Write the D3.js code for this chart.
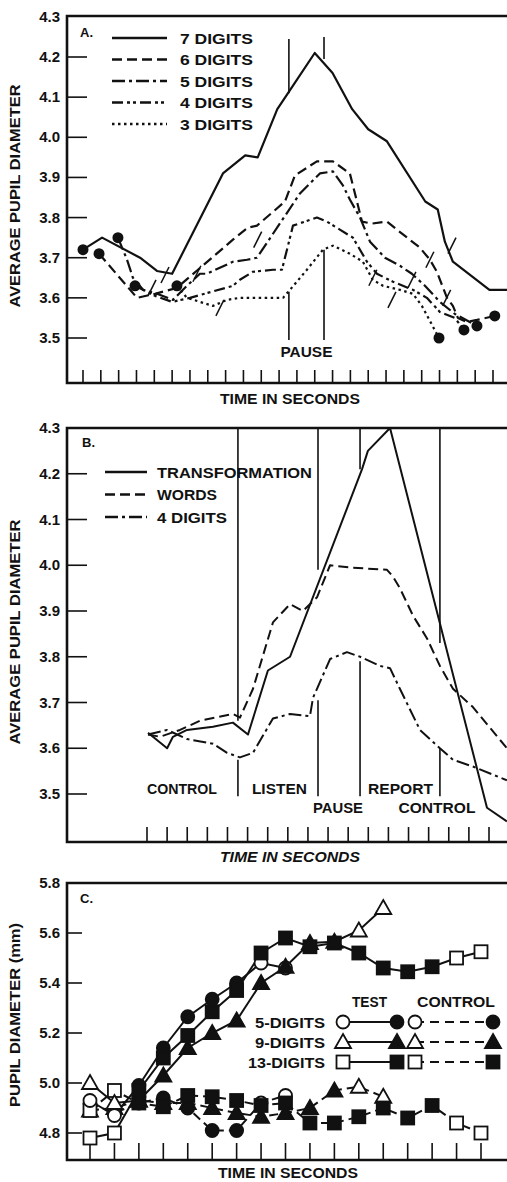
<!DOCTYPE html>
<html><head><meta charset="utf-8">
<script src="https://cdn.jsdelivr.net/npm/d3@7"></script>
<style>body{margin:0;background:#fff}svg{display:block}text{font-family:"Liberation Sans",Arial,sans-serif;fill:#111;font-weight:bold}</style>
</head><body><svg id="c" width="507" height="1182"></svg>
<script>
// ---------------- DATA ----------------
// Panel A : time in tick units, average pupil diameter
const A_TICKS = d3.range(0, 24);
const A_YTICKS = [3.5, 3.6, 3.7, 3.8, 3.9, 4.0, 4.1, 4.2, 4.3];
const A_NAMES = ["7 DIGITS", "6 DIGITS", "5 DIGITS", "4 DIGITS", "3 DIGITS"];
const A_SEVEN = [[0,3.72],[1.07,3.75],[3.2,3.70],[4.15,3.667],[5,3.66],[7.85,3.91],[9.1,3.955],[9.8,3.95],[10.9,4.07],[11.5,4.11],[13,4.21],[14,4.16],[15.1,4.07],[16,4.02],[17.05,3.99],[19.2,3.84],[19.9,3.82],[20.3,3.74],[20.75,3.69],[22.8,3.62],[23.8,3.62]];
const A_SIX = [[0.9,3.71],[3.03,3.60],[4.04,3.61],[5.27,3.625],[6.45,3.67],[8.41,3.745],[9.25,3.775],[9.76,3.78],[11.33,3.84],[11.89,3.905],[13.12,3.94],[14.02,3.94],[14.97,3.91],[15.37,3.84],[15.65,3.79],[16.21,3.785],[17.05,3.79],[17.61,3.77],[18.9,3.725],[19.46,3.695],[19.85,3.665],[20.42,3.60],[20.75,3.58],[21.03,3.55],[21.54,3.54],[22.1,3.545],[23.1,3.555]];
const A_FIVE = [[1.96,3.75],[2.47,3.695],[2.8,3.65],[3.37,3.62],[4.15,3.61],[5.05,3.595],[5.83,3.63],[6.56,3.66],[6.95,3.66],[8.41,3.69],[9.2,3.695],[9.76,3.70],[12.17,3.86],[13.29,3.91],[14.02,3.915],[14.58,3.88],[14.97,3.845],[15.54,3.80],[16.1,3.74],[16.94,3.70],[17.78,3.68],[18.45,3.66],[19.18,3.63],[20.02,3.59],[20.86,3.56],[22.1,3.53]];
const A_FOUR = [[2.92,3.63],[4.04,3.605],[5,3.59],[6,3.60],[8.41,3.63],[8.8,3.645],[9.53,3.665],[10.66,3.67],[11.16,3.67],[11.78,3.78],[13.12,3.80],[13.68,3.79],[14.41,3.77],[15.14,3.75],[15.93,3.69],[16.49,3.66],[17.39,3.64],[18.51,3.62],[19.29,3.60],[20.02,3.565],[20.86,3.55],[21.37,3.52]];
const A_THREE = [[5.27,3.63],[5.83,3.60],[6.56,3.59],[7.29,3.58],[8.08,3.595],[8.8,3.60],[11.22,3.60],[11.61,3.62],[12.56,3.67],[13.46,3.72],[14.02,3.73],[14.97,3.71],[15.7,3.69],[16.26,3.645],[16.83,3.63],[17.78,3.62],[18.51,3.61],[19.01,3.58],[19.97,3.50]];
const A_ENDDOT = [false, true, true, true, true];
// pause markers: time, upper segment [top,bottom], lower segment [top,bottom]
const A_PAUSE = [[11.55, 4.245, 4.11, 3.615, 3.495],[13.52, 4.25, 4.195, 3.72, 3.495]];
// short slash marks drawn across the curves (time, value)
const A_SLASH = [[3.87,3.625],[4.6,3.657],[6.39,3.66],[7.68,3.575],[9.8,3.745],[16.26,3.65],[17.33,3.595],[18.45,3.645],[19.46,3.695],[20.4,3.60],[20.7,3.73]];

// Panel B
const B_TICKS = d3.range(0, 18);
const B_YTICKS = [3.5, 3.6, 3.7, 3.8, 3.9, 4.0, 4.1, 4.2, 4.3];
const B_NAMES = ["TRANSFORMATION", "WORDS", "4 DIGITS"];
const B_TRANS = [[0.05,3.634],[1,3.60],[1.29,3.625],[1.99,3.64],[3.28,3.647],[4.27,3.656],[5.02,3.63],[6.01,3.77],[7.11,3.80],[10.69,4.21],[10.98,4.25],[12.08,4.30],[16.9,3.47],[17.89,3.44]];
const B_WORDS = [[0.05,3.63],[0.65,3.625],[1.64,3.64],[2.63,3.66],[4.27,3.675],[4.62,3.667],[5.27,3.73],[6.26,3.875],[7.11,3.915],[7.75,3.90],[8.45,3.93],[9.1,4.0],[10.09,3.995],[11.93,3.99],[12.23,3.975],[12.57,3.95],[13.22,3.89],[13.92,3.84],[14.56,3.78],[15.21,3.73],[16.2,3.69],[17.89,3.60]];
const B_FOUR = [[0.05,3.63],[1,3.64],[1.99,3.62],[3.28,3.61],[3.98,3.59],[4.62,3.58],[5.27,3.59],[6.26,3.665],[7.11,3.675],[8.1,3.67],[8.25,3.71],[9.1,3.795],[9.94,3.81],[10.59,3.80],[11.58,3.78],[12.08,3.775],[12.57,3.73],[13.57,3.64],[14.56,3.60],[15.21,3.575],[16.2,3.56],[17.89,3.53]];
// phase boundaries: time, upper segment [top,bottom], lower segment [top,bottom]
const B_BOUNDS = [[4.52,4.3,3.66,3.575,3.495],[8.5,4.3,3.99,3.705,3.495],[10.59,4.3,4.21,3.79,3.495],[14.56,4.3,3.83,3.60,3.495]];
const B_PHASES = [["CONTROL",0],["LISTEN",0],["PAUSE",1],["REPORT",0],["CONTROL",1]];

// Panel C : index of time tick, pupil diameter (mm); open = control-period samples
const C_TICKS = d3.range(0, 17);
const C_YTICKS = [4.8, 5.0, 5.2, 5.4, 5.6, 5.8];
const C_NAMES = ["5-DIGITS", "9-DIGITS", "13-DIGITS"];
const C_TEST5 = [4.93, 4.87, 4.99, 5.14, 5.265, 5.335, 5.40, 5.48, 5.46];
const C_TEST9 = [5.00, 4.92, 4.93, 5.03, 5.14, 5.20, 5.25, 5.40, 5.465, 5.56, 5.565, 5.61, 5.70];
const C_TEST13 = [4.78, 4.80, 4.97, 5.10, 5.19, 5.285, 5.37, 5.52, 5.58, 5.545, 5.56, 5.52, 5.46, 5.445, 5.465, 5.50, 5.525];
const C_CTRL5 = [4.92, 4.88, 4.92, 4.94, 4.90, 4.81, 4.81, 4.92, 4.95];
const C_CTRL9 = [4.89, 4.90, 4.93, 4.92, 4.92, 4.90, 4.88, 4.865, 4.88, 4.90, 4.97, 4.985, 4.945];
const C_CTRL13 = [4.89, 4.97, 4.92, 4.905, 4.95, 4.945, 4.93, 4.91, 4.92, 4.84, 4.84, 4.865, 4.90, 4.86, 4.91, 4.84, 4.80];

// ---------------- DRAW ----------------
const svg = d3.select('#c');
svg.append('rect').attr('width', 507).attr('height', 1182).attr('fill', '#fff');
const INK = '#111';

function txt(g, x, y, s, o = {}) {
  const t = g.append('text').attr('x', x).attr('y', y).text(s)
    .attr('font-size', o.size || 14).attr('text-anchor', o.anchor || 'start');
  if (o.len) t.attr('textLength', o.len).attr('lengthAdjust', 'spacingAndGlyphs');
  if (o.italic) t.attr('font-style', 'italic');
  if (o.rotate) t.attr('transform', `rotate(-90,${x},${y})`);
  return t;
}

function frame(g, x, y, f, ticks, yticks, yTickLen, xTickLen) {
  g.append('path').attr('d', `M${f.r},${f.t}H${f.l}V${f.b}H${f.r}`)
    .attr('fill', 'none').attr('stroke', INK).attr('stroke-width', 2.6);
  g.selectAll(null).data(yticks.filter(v => y(v) > f.t + 4)).join('line')
    .attr('x1', f.l).attr('x2', f.l + yTickLen).attr('y1', d => y(d)).attr('y2', d => y(d))
    .attr('stroke', INK).attr('stroke-width', 1.6);
  g.selectAll(null).data(yticks).join('text')
    .attr('x', 60).attr('y', d => y(d) + 5).attr('text-anchor', 'end')
    .attr('font-size', 15).text(d => d.toFixed(1));
  g.selectAll(null).data(ticks).join('line')
    .attr('x1', d => x(d)).attr('x2', d => x(d)).attr('y1', f.b).attr('y2', f.b - xTickLen)
    .attr('stroke', INK).attr('stroke-width', 1.6);
}

// ===== Panel A =====
const gA = svg.append('g');
const fA = {l: 67, r: 507, t: 16, b: 383};
const xA = d3.scaleLinear().domain([0, 23]).range([83, 493]);
const yA = d3.scaleLinear().domain([3.5, 4.2]).range([338, 57]);
frame(gA, xA, yA, fA, A_TICKS, A_YTICKS, 20, 13);
const A_DASH = [null, '10,5', '13,4,3,4', '11,4,3,3,3,4', '2.5,3.5'];
const A_SERIES = [A_SEVEN, A_SIX, A_FIVE, A_FOUR, A_THREE];
const lineA = d3.line().x(d => xA(d[0])).y(d => yA(d[1]));
A_SERIES.forEach((s, i) => {
  gA.append('path').attr('d', lineA(s)).attr('fill', 'none').attr('stroke', INK)
    .attr('stroke-width', 2.2).attr('stroke-dasharray', A_DASH[i]).attr('stroke-linejoin', 'round');
  const dots = A_ENDDOT[i] ? [s[0], s[s.length - 1]] : [s[0]];
  gA.selectAll(null).data(dots).join('circle').attr('cx', d => xA(d[0])).attr('cy', d => yA(d[1]))
    .attr('r', 5.5).attr('fill', INK);
});
gA.selectAll(null).data(A_SLASH).join('line')
  .attr('x1', d => xA(d[0]) - 4).attr('y1', d => yA(d[1]) + 8)
  .attr('x2', d => xA(d[0]) + 4).attr('y2', d => yA(d[1]) - 8)
  .attr('stroke', INK).attr('stroke-width', 1.5);
A_PAUSE.forEach(p => {
  [[p[1], p[2]], [p[3], p[4]]].forEach(seg => gA.append('line')
    .attr('x1', xA(p[0])).attr('x2', xA(p[0])).attr('y1', yA(seg[0])).attr('y2', yA(seg[1]))
    .attr('stroke', INK).attr('stroke-width', 1.6));
});
txt(gA, (xA(A_PAUSE[0][0]) + xA(A_PAUSE[1][0])) / 2, 357, 'PAUSE', {anchor: 'middle', len: 52});
txt(gA, 80, 37, 'A.', {size: 13});
A_NAMES.forEach((n, i) => {
  const yy = 38 + i * 21.5;
  gA.append('line').attr('x1', 112).attr('x2', 167).attr('y1', yy).attr('y2', yy)
    .attr('stroke', INK).attr('stroke-width', 2.4).attr('stroke-dasharray', A_DASH[i]);
  txt(gA, 180, yy + 5.5, n, {size: 15, len: 73});
});
txt(gA, 20, 196, 'AVERAGE PUPIL DIAMETER', {size: 14, anchor: 'middle', rotate: true, len: 223});
txt(gA, 290, 404, 'TIME IN SECONDS', {size: 14, anchor: 'middle', len: 140});

// ===== Panel B =====
const gB = svg.append('g');
const fB = {l: 67, r: 507, t: 428, b: 842};
const xB = d3.scaleLinear().domain([0, 17]).range([147, 489]);
const yB = d3.scaleLinear().domain([3.5, 4.3]).range([794, 428]);
frame(gB, xB, yB, fB, B_TICKS, B_YTICKS, 20, 15);
const B_DASH = [null, '10,5', '13,4,3,4'];
const lineB = d3.line().x(d => xB(d[0])).y(d => yB(d[1]));
[B_TRANS, B_WORDS, B_FOUR].forEach((s, i) => {
  gB.append('path').attr('d', lineB(s)).attr('fill', 'none').attr('stroke', INK)
    .attr('stroke-width', 2.0).attr('stroke-dasharray', B_DASH[i]).attr('stroke-linejoin', 'round');
});
B_BOUNDS.forEach(p => {
  [[p[1], p[2]], [p[3], p[4]]].forEach(seg => gB.append('line')
    .attr('x1', xB(p[0])).attr('x2', xB(p[0])).attr('y1', yB(seg[0])).attr('y2', yB(seg[1]))
    .attr('stroke', INK).attr('stroke-width', 1.6));
});
const phaseX = [xB(0), xB(4.52) + 14, xB(8.5) - 5, xB(10.59) + 8, xB(12.5)];
const phaseW = [70, 55, 50, 65, 77];
B_PHASES.forEach((p, i) => txt(gB, phaseX[i], p[1] ? 813 : 794, p[0], {len: phaseW[i]}));
txt(gB, 82, 447, 'B.', {size: 13});
const bLen = [155, 60, 70];
B_NAMES.forEach((n, i) => {
  const yy = 472 + i * 22.5;
  gB.append('line').attr('x1', 105).attr('x2', 147).attr('y1', yy).attr('y2', yy)
    .attr('stroke', INK).attr('stroke-width', 2.4).attr('stroke-dasharray', B_DASH[i]);
  txt(gB, 157, yy + 5.5, n, {size: 15, len: bLen[i]});
});
txt(gB, 20, 632, 'AVERAGE PUPIL DIAMETER', {size: 14, anchor: 'middle', rotate: true, len: 225});
txt(gB, 290, 862, 'TIME IN SECONDS', {size: 14, anchor: 'middle', len: 140, italic: true});

// ===== Panel C =====
const gC = svg.append('g');
const fC = {l: 67, r: 507, t: 883, b: 1160};
const xC = d3.scaleLinear().domain([0, 16]).range([90, 481]);
const yC = d3.scaleLinear().domain([4.8, 5.8]).range([1133, 883]);
frame(gC, xC, yC, fC, C_TICKS, C_YTICKS, 15, 17);

function marker(g, shape, cx, cy, filled) {
  let el;
  if (shape === 'circle') el = g.append('circle').attr('cx', cx).attr('cy', cy).attr('r', 6.5);
  else if (shape === 'square') el = g.append('rect').attr('x', cx - 6.5).attr('y', cy - 6.5).attr('width', 13).attr('height', 13);
  else el = g.append('path').attr('d', `M${cx},${cy - 8}L${cx + 8},${cy + 6}L${cx - 8},${cy + 6}Z`);
  el.attr('fill', filled ? INK : '#fff').attr('stroke', INK).attr('stroke-width', 1.8);
}
const C_SHAPES = ['circle', 'triangle', 'square'];
const lineC = d3.line().x((d, i) => xC(i)).y(d => yC(d));
[[C_CTRL5, C_CTRL9, C_CTRL13], [C_TEST5, C_TEST9, C_TEST13]].forEach((grp, gi) => {
  grp.forEach((s, k) => {
    gC.append('path').attr('d', lineC(s)).attr('fill', 'none').attr('stroke', INK)
      .attr('stroke-width', 2).attr('stroke-dasharray', gi === 0 ? '9,5' : null);
  });
});
[[C_CTRL5, C_CTRL9, C_CTRL13], [C_TEST5, C_TEST9, C_TEST13]].forEach(grp => {
  grp.forEach((s, k) => {
    s.forEach((v, i) => marker(gC, C_SHAPES[k], xC(i), yC(v), i >= 2 && i < s.length - 2));
  });
});
txt(gC, 80, 903, 'C.', {size: 13});
txt(gC, 352, 1007, 'TEST', {len: 35});
txt(gC, 417, 1007, 'CONTROL', {len: 78});
const cLen = [70, 70, 77];
C_NAMES.forEach((n, k) => {
  const yy = 1022 + k * 20;
  txt(gC, 325, yy + 5.5, n, {size: 15, anchor: 'end', len: cLen[k]});
  gC.append('line').attr('x1', 343).attr('x2', 397).attr('y1', yy).attr('y2', yy).attr('stroke', INK).attr('stroke-width', 2);
  gC.append('line').attr('x1', 415).attr('x2', 493).attr('y1', yy).attr('y2', yy).attr('stroke', INK).attr('stroke-width', 2).attr('stroke-dasharray', '9,6');
  marker(gC, C_SHAPES[k], 343, yy, false);
  marker(gC, C_SHAPES[k], 397, yy, true);
  marker(gC, C_SHAPES[k], 415, yy, false);
  marker(gC, C_SHAPES[k], 493, yy, true);
});
txt(gC, 20, 1015, 'PUPIL DIAMETER (mm)', {size: 14, anchor: 'middle', rotate: true, len: 184});
txt(gC, 288, 1178, 'TIME IN SECONDS', {size: 14, anchor: 'middle', len: 140});
</script></body></html>
